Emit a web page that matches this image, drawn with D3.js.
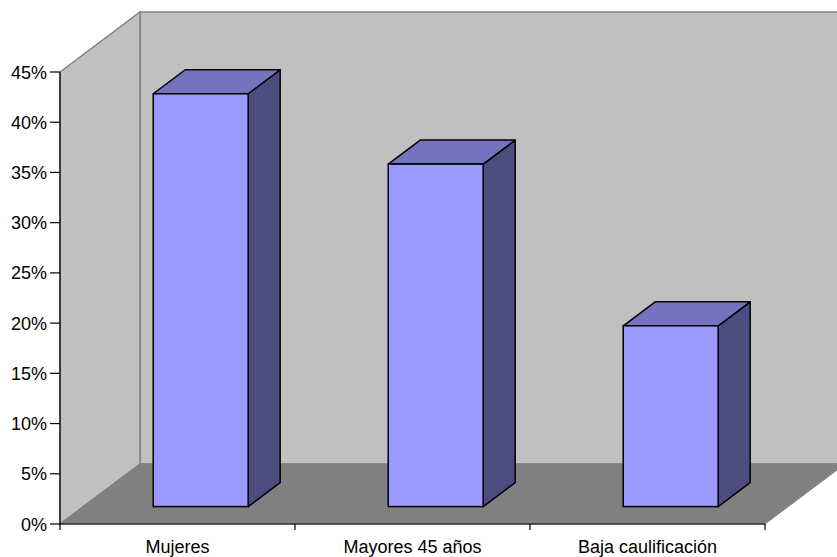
<!DOCTYPE html>
<html>
<head>
<meta charset="utf-8">
<script src="https://cdn.jsdelivr.net/npm/d3@7"></script>
<style>
  html, body { margin: 0; padding: 0; background: #ffffff; }
  svg { display: block; }
  text { font-family: Arial, "Liberation Sans", Helvetica, sans-serif; fill: #000; }
</style>
</head>
<body>
<svg id="chart" width="837" height="557"></svg>
<script>
// Share of each group (fraction of total)
const categories = ["Mujeres", "Mayores 45 años", "Baja caulificación"];
const values = [0.411, 0.341, 0.180];
const tickValues = [0, 0.05, 0.10, 0.15, 0.20, 0.25, 0.30, 0.35, 0.40, 0.45];

const svg = d3.select("#chart");

// Front plane of the 3D box
const plotLeft = 60, plotRight = 765, plotBottom = 524, plotTop = 72;
// Oblique depth vector (full depth of the floor / walls)
const depth = { dx: 80, dy: -60 };
// Bars sit between these fractions of the depth
const zFront = 0.29, zBack = 0.69;

const y = d3.scaleLinear().domain([0, 0.45]).range([plotBottom, plotTop]);
const x = d3.scaleBand().domain(categories).range([plotLeft, plotRight])
  .paddingInner(0.596).paddingOuter(0.298);
const step = x.step();

const off = z => [depth.dx * z, depth.dy * z];
const pts = arr => arr.map(p => p.join(",")).join(" ");

const wallColor = "#c0c0c0", floorColor = "#808080", edgeColor = "#808080";

// Back wall
svg.append("polygon")
  .attr("points", pts([
    [plotLeft + depth.dx, plotTop + depth.dy],
    [plotRight + depth.dx + 20, plotTop + depth.dy],
    [plotRight + depth.dx + 20, plotBottom + depth.dy],
    [plotLeft + depth.dx, plotBottom + depth.dy]
  ]))
  .attr("fill", wallColor).attr("stroke", edgeColor).attr("stroke-width", 1.5);

// Left side wall
svg.append("polygon")
  .attr("points", pts([
    [plotLeft, plotTop],
    [plotLeft + depth.dx, plotTop + depth.dy],
    [plotLeft + depth.dx, plotBottom + depth.dy],
    [plotLeft, plotBottom]
  ]))
  .attr("fill", wallColor).attr("stroke", edgeColor).attr("stroke-width", 1.5);

// Floor
svg.append("polygon")
  .attr("points", pts([
    [plotLeft, plotBottom],
    [plotRight, plotBottom],
    [plotRight + depth.dx, plotBottom + depth.dy],
    [plotLeft + depth.dx, plotBottom + depth.dy]
  ]))
  .attr("fill", floorColor).attr("stroke", floorColor).attr("stroke-width", 1);

// Bars
const [fdx, fdy] = off(zFront);
const [bdx, bdy] = off(zBack);
const ddx = bdx - fdx, ddy = bdy - fdy;

const bars = svg.append("g").selectAll("g")
  .data(categories.map((c, i) => ({ c, v: values[i] })))
  .join("g");

bars.each(function (d) {
  const g = d3.select(this);
  const x0 = x(d.c) + fdx, x1 = x(d.c) + x.bandwidth() + fdx;
  const yt = y(d.v) + fdy, yb = y(0) + fdy;
  // side face
  g.append("polygon")
    .attr("points", pts([[x1, yt], [x1 + ddx, yt + ddy], [x1 + ddx, yb + ddy], [x1, yb]]))
    .attr("fill", "#4c4c7e").attr("stroke", "#000").attr("stroke-width", 1.5)
    .attr("stroke-linejoin", "round");
  // top face
  g.append("polygon")
    .attr("points", pts([[x0, yt], [x0 + ddx, yt + ddy], [x1 + ddx, yt + ddy], [x1, yt]]))
    .attr("fill", "#7373bf").attr("stroke", "#000").attr("stroke-width", 1.5)
    .attr("stroke-linejoin", "round");
  // front face
  g.append("rect")
    .attr("x", x0).attr("y", yt)
    .attr("width", x1 - x0).attr("height", yb - yt)
    .attr("fill", "#9999ff").attr("stroke", "#000").attr("stroke-width", 1.5);
});

// Y axis
const yAxis = svg.append("g");
yAxis.append("line")
  .attr("x1", plotLeft).attr("x2", plotLeft).attr("y1", plotTop).attr("y2", plotBottom)
  .attr("stroke", "#000").attr("stroke-width", 1.2);
yAxis.selectAll("line.tick").data(tickValues).join("line")
  .attr("class", "tick")
  .attr("x1", plotLeft - 10).attr("x2", plotLeft)
  .attr("y1", d => y(d)).attr("y2", d => y(d))
  .attr("stroke", "#000").attr("stroke-width", 1.2);
yAxis.selectAll("text").data(tickValues).join("text")
  .attr("x", plotLeft - 13).attr("y", d => y(d) + 6.5)
  .attr("text-anchor", "end").attr("font-size", 18)
  .text(d3.format(".0%"));

// X axis
const xAxis = svg.append("g");
xAxis.append("line")
  .attr("x1", plotLeft).attr("x2", plotRight).attr("y1", plotBottom).attr("y2", plotBottom)
  .attr("stroke", "#000").attr("stroke-width", 1.2);
const boundaries = d3.range(categories.length + 1).map(i => plotLeft + i * step);
xAxis.selectAll("line.tick").data(boundaries).join("line")
  .attr("class", "tick")
  .attr("x1", d => d).attr("x2", d => d)
  .attr("y1", plotBottom).attr("y2", plotBottom + 6)
  .attr("stroke", "#000").attr("stroke-width", 1.2);
xAxis.selectAll("text").data(categories).join("text")
  .attr("x", d => x(d) + x.bandwidth() / 2)
  .attr("y", plotBottom + 29)
  .attr("text-anchor", "middle").attr("font-size", 18)
  .text(d => d);
</script>
</body>
</html>
